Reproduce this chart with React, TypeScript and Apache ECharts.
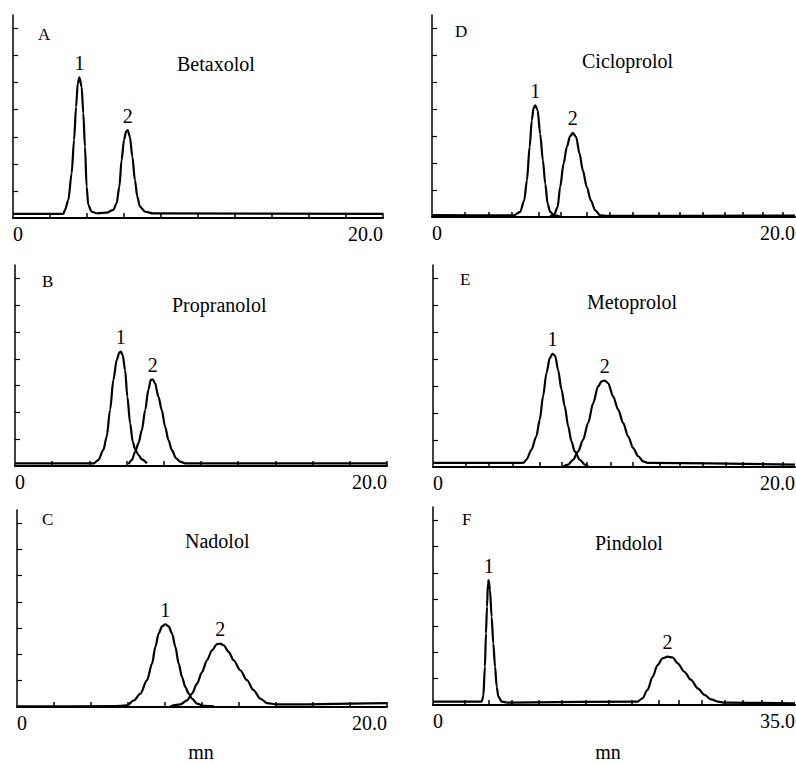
import React, { useEffect, useRef } from "react";
import * as echarts from "echarts";

// ---- data: [time (min), detector signal] ----
const betaxololPeak1 = [[0,0.15],[2.72,0.15],[2.81,0.3],[2.99,0.66],[3.17,1.65],[3.3,2.88],[3.41,4.11],[3.5,4.98],[3.59,5.2],[3.71,4.85],[3.8,3.87],[3.89,2.64],[3.98,1.16],[4.07,0.48],[4.25,0.23],[4.52,0.17]];
const betaxololPeak2 = [[4.52,0.17],[5.06,0.2],[5.42,0.3],[5.6,0.54],[5.75,1.16],[5.87,2.14],[6.0,2.88],[6.11,3.19],[6.2,3.25],[6.32,3.0],[6.45,2.27],[6.59,1.4],[6.72,0.79],[6.86,0.42],[7.14,0.23],[7.59,0.17],[20,0.15]];

const cicloprololPeak1 = [[0,0.07],[4.5,0.06],[4.86,0.19],[5.08,0.62],[5.23,1.36],[5.38,2.6],[5.5,3.59],[5.6,4.06],[5.69,4.15],[5.82,3.96],[5.96,3.09],[6.11,2.1],[6.24,1.24],[6.37,0.5],[6.51,0.19],[6.73,0.06],[7.06,0.02]];
const cicloprololPeak2 = [[6.51,0.02],[6.73,0.09],[6.92,0.37],[7.06,1.11],[7.25,1.98],[7.43,2.6],[7.61,3.0],[7.76,3.12],[7.94,2.97],[8.13,2.35],[8.31,1.73],[8.53,1.11],[8.75,0.62],[8.99,0.25],[9.27,0.06],[9.63,0.04],[20,0.05]];

const propranololPeak1 = [[0,0.1],[4.22,0.1],[4.48,0.22],[4.75,0.6],[4.93,1.09],[5.11,2.09],[5.29,3.21],[5.47,3.96],[5.61,4.23],[5.69,4.27],[5.79,4.14],[5.92,3.58],[6.04,2.59],[6.19,1.59],[6.33,0.91],[6.46,0.62],[6.64,0.41],[6.82,0.25],[7.09,0.1]];
const propranololPeak2 = [[6.1,0.07],[6.28,0.22],[6.46,0.53],[6.64,0.85],[6.82,1.34],[7.0,2.09],[7.17,2.84],[7.3,3.21],[7.41,3.23],[7.53,3.08],[7.71,2.59],[7.89,2.09],[8.07,1.47],[8.25,0.97],[8.43,0.6],[8.66,0.29],[8.88,0.16],[9.15,0.1],[20,0.1]];

const metoprololPeak1 = [[0,0.15],[4.98,0.15],[5.16,0.27],[5.44,0.64],[5.71,1.14],[5.9,1.76],[6.08,2.62],[6.27,3.49],[6.45,4.04],[6.6,4.2],[6.75,4.13],[6.91,3.61],[7.1,2.87],[7.28,2.25],[7.47,1.51],[7.65,0.95],[7.83,0.58],[8.11,0.27],[8.39,0.09],[8.57,0.02]];
const metoprololPeak2 = [[7.19,0.02],[7.47,0.09],[7.74,0.27],[8.02,0.58],[8.29,1.01],[8.57,1.63],[8.85,2.37],[9.12,2.99],[9.31,3.18],[9.49,3.21],[9.68,3.11],[9.95,2.62],[10.23,2.13],[10.51,1.63],[10.78,1.14],[11.06,0.7],[11.34,0.4],[11.61,0.21],[11.89,0.15],[20,0.09]];

const nadololPeak1 = [[0,0.02],[5.23,0.03],[5.95,0.06],[6.31,0.25],[6.67,0.51],[7.03,1.02],[7.3,1.65],[7.48,2.29],[7.66,2.8],[7.84,3.07],[8.02,3.15],[8.2,3.07],[8.38,2.8],[8.56,2.29],[8.74,1.65],[8.92,1.14],[9.1,0.76],[9.28,0.51],[9.46,0.32],[9.73,0.13],[10.09,0.04],[10.63,0.03]];
const nadololPeak2 = [[8.29,0.03],[8.83,0.1],[9.19,0.25],[9.46,0.51],[9.73,0.89],[10.0,1.33],[10.27,1.78],[10.54,2.16],[10.81,2.39],[10.99,2.41],[11.17,2.35],[11.44,2.1],[11.71,1.78],[12.07,1.4],[12.43,1.02],[12.79,0.64],[13.15,0.32],[13.51,0.15],[14.05,0.1],[20,0.15]];

const pindololPeak1 = [[0,0.13],[4.7,0.13],[4.86,0.32],[5.02,1.45],[5.12,2.71],[5.22,3.72],[5.31,4.6],[5.38,4.73],[5.51,4.35],[5.67,3.34],[5.83,2.33],[6.0,1.45],[6.16,0.69],[6.32,0.32],[6.64,0.13],[7.13,0.09]];
const pindololPeak2 = [[7.13,0.09],[19.77,0.13],[20.25,0.25],[20.74,0.57],[21.23,1.07],[21.71,1.51],[22.2,1.77],[22.68,1.83],[23.17,1.8],[23.66,1.58],[24.3,1.26],[24.95,0.95],[25.6,0.63],[26.25,0.38],[26.9,0.21],[27.54,0.13],[28.19,0.09],[35,0.06]];

// ---- axis ticks ----
const leftXTicks = [2, 4, 6, 8, 10, 12, 14, 16, 18, 20];
const rightXTicks20 = [1.8, 3.1, 4.4, 5.9, 7.1, 8.5, 9.8, 11.05, 12.5, 13.65, 14.9, 16.15, 17.1, 18.2, 19.3];
const rightXTicks35 = [3.1, 5.4, 7.6, 10.25, 12.4, 14.8, 17.0, 19.25, 21.85, 23.8, 26.0, 28.2, 29.9, 31.8, 33.7];
const yTicks = [1, 2, 3, 4, 5, 6, 7];
const peakNames = ["1", "2"];
const xAxisName = "mn";

const FONT = '"Liberation Serif", "DejaVu Serif", serif';

const panels = [
  { letter: "A", title: "Betaxolol", max: 20, ticks: leftXTicks, curves: [betaxololPeak1, betaxololPeak2],
    grid: { left: 13, top: 15, width: 370, height: 203 }, letterAt: [38, 34], titleAt: [177, 64] },
  { letter: "D", title: "Cicloprolol", max: 20, ticks: rightXTicks20, curves: [cicloprololPeak1, cicloprololPeak2],
    grid: { left: 432, top: 15, width: 363, height: 202 }, letterAt: [455, 31], titleAt: [582, 61] },
  { letter: "B", title: "Propranolol", max: 20, ticks: leftXTicks, curves: [propranololPeak1, propranololPeak2],
    grid: { left: 15, top: 265, width: 372, height: 201 }, letterAt: [42, 281], titleAt: [172, 305] },
  { letter: "E", title: "Metoprolol", max: 20, ticks: rightXTicks20, curves: [metoprololPeak1, metoprololPeak2],
    grid: { left: 433, top: 265, width: 362, height: 202 }, letterAt: [460, 279], titleAt: [587, 302] },
  { letter: "C", title: "Nadolol", max: 20, ticks: leftXTicks, curves: [nadololPeak1, nadololPeak2],
    grid: { left: 17, top: 510, width: 370, height: 197 }, letterAt: [42, 519], titleAt: [185, 541] },
  { letter: "F", title: "Pindolol", max: 35, ticks: rightXTicks35, curves: [pindololPeak1, pindololPeak2],
    grid: { left: 433, top: 507, width: 362, height: 198 }, letterAt: [462, 519], titleAt: [595, 543] },
];

function apex(curve: number[][]) {
  let best = curve[0];
  for (const p of curve) if (p[1] > best[1]) best = p;
  return best;
}

function txt(x: number, y: number, text: string, size: number, align = "left") {
  return {
    type: "text",
    x,
    y,
    silent: true,
    style: {
      text,
      font: `${size}px ${FONT}`,
      fill: "#000",
      align,
      verticalAlign: "middle",
      textAlign: align,
      textVerticalAlign: "middle",
    },
  };
}

function buildOption() {
  const grid: any[] = [];
  const xAxis: any[] = [];
  const yAxis: any[] = [];
  const series: any[] = [];
  const graphic: any[] = [];

  panels.forEach((p, i) => {
    grid.push({ ...p.grid, containLabel: false, outerBoundsMode: "none" });
    xAxis.push({
      type: "value",
      gridIndex: i,
      min: 0,
      max: p.max,
      splitLine: { show: false },
      axisLine: { show: true, onZero: false, lineStyle: { color: "#000", width: 2 } },
      axisTick: { show: true, inside: true, length: 5, customValues: p.ticks, lineStyle: { color: "#000", width: 1.5 } },
      axisLabel: {
        show: true,
        customValues: [0, p.max],
        formatter: (v: number) => (v === 0 ? "0" : v.toFixed(1)),
        fontFamily: FONT,
        fontSize: 20,
        color: "#000",
        margin: 6,
        alignMinLabel: "left",
        alignMaxLabel: "right",
      },
    });
    yAxis.push({
      type: "value",
      gridIndex: i,
      min: 0,
      max: 7.5,
      splitLine: { show: false },
      axisLine: { show: true, lineStyle: { color: "#000", width: 1.5 } },
      axisTick: { show: true, inside: true, length: 5, customValues: yTicks, lineStyle: { color: "#000", width: 1.2 } },
      axisLabel: { show: false },
    });
    p.curves.forEach((c) => {
      series.push({
        type: "line",
        xAxisIndex: i,
        yAxisIndex: i,
        data: c,
        showSymbol: false,
        smooth: 0.3,
        smoothMonotone: "x",
        lineStyle: { color: "#000", width: 2.2 },
        silent: true,
      });
    });
    series.push({
      type: "scatter",
      xAxisIndex: i,
      yAxisIndex: i,
      data: p.curves.map((c) => apex(c)),
      symbolSize: 1,
      itemStyle: { color: "rgba(0,0,0,0)" },
      silent: true,
      label: {
        show: true,
        position: "top",
        distance: 4,
        formatter: (d: any) => peakNames[d.dataIndex],
        fontFamily: FONT,
        fontSize: 20,
        color: "#000",
        textBorderWidth: 0,
        opacity: 1,
      },
    });
    graphic.push(txt(p.letterAt[0], p.letterAt[1], p.letter, 17));
    graphic.push(txt(p.titleAt[0], p.titleAt[1], p.title, 20));
  });

  graphic.push(txt(201, 752, xAxisName, 20, "center"));
  graphic.push(txt(608, 752, xAxisName, 20, "center"));

  return {
    animation: false,
    backgroundColor: "#fff",
    grid,
    xAxis,
    yAxis,
    series,
    graphic,
  };
}

export default function App() {
  const ref = useRef<HTMLDivElement>(null);
  useEffect(() => {
    if (!ref.current) return;
    const chart = echarts.init(ref.current, undefined, { renderer: "svg" });
    chart.setOption(buildOption() as any);
    return () => chart.dispose();
  }, []);
  return (
    <div
      ref={ref}
      style={{ position: "absolute", left: 0, top: 0, width: 796, height: 763, background: "#fff" }}
    />
  );
}
